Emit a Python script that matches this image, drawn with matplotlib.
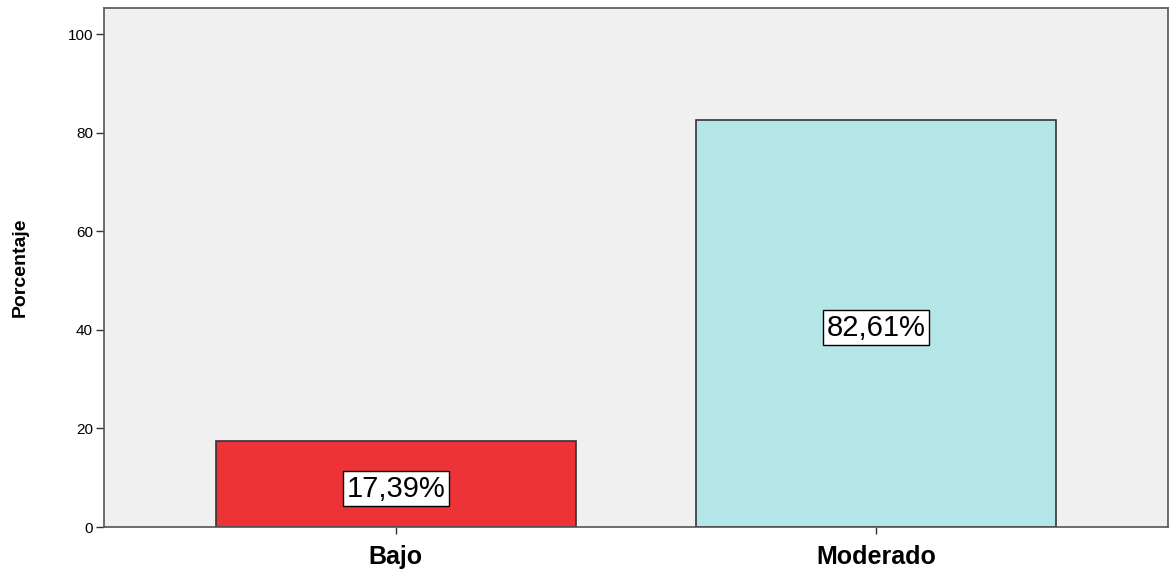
import matplotlib.pyplot as plt

categories = ["Bajo", "Moderado"]
percentages = [17.39, 82.61]
bar_colors = ["#EE3338", "#B4E6E8"]
value_labels = ["17,39%", "82,61%"]

fig = plt.figure(figsize=(11.73, 5.69), dpi=100)
ax = fig.add_axes([0.0887, 0.0738, 0.907, 0.912])
ax.set_facecolor("#F0F0F0")

x = range(len(categories))
ax.bar(x, percentages, width=0.75, color=bar_colors, edgecolor="#333333", linewidth=1.2, zorder=2)

for xi, val, lab in zip(x, percentages, value_labels):
    ax.text(xi, val / 2 - 0.9, lab, ha="center", va="center", fontsize=21,
            family="Liberation Sans", zorder=3,
            bbox=dict(boxstyle="square,pad=0.12", facecolor="white", edgecolor="black", linewidth=1))

ax.set_xlim(-0.607, 1.607)
ax.set_ylim(0, 105.3)
ax.set_yticks([0, 20, 40, 60, 80, 100])
ax.set_xticks(list(x))
ax.set_xticklabels(categories, fontsize=18, fontweight="bold", family="Liberation Sans")
for lab in ax.get_yticklabels():
    lab.set_family("Liberation Sans")
    lab.set_fontsize(11)
ax.tick_params(axis="y", length=6, width=1, color="#333333", pad=2)
ax.tick_params(axis="x", length=5, width=1, color="#333333", pad=8)
ax.set_ylabel("Porcentaje", fontsize=14, fontweight="bold",
              family=["Liberation Sans Narrow", "Liberation Sans"], labelpad=28)

for s in ax.spines.values():
    s.set_color("#555555")
    s.set_linewidth(1.2)

fig.savefig("out.png", dpi=100)
